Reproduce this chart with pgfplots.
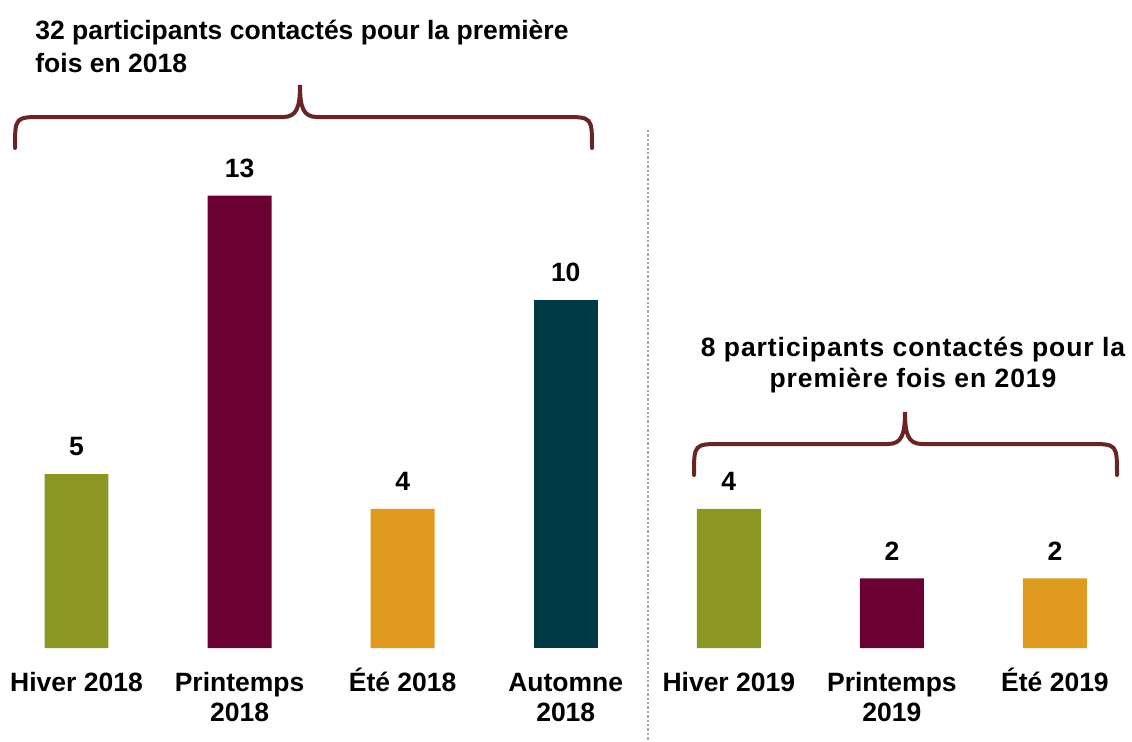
\documentclass[border=0pt]{standalone}
\usepackage{fontspec}
\setmainfont{Liberation Sans}
\usepackage{pgfplots}
\pgfplotsset{compat=1.18}

\definecolor{cOlive}{RGB}{139,150,35}
\definecolor{cMaroon}{RGB}{107,0,51}
\definecolor{cOrange}{RGB}{224,154,30}
\definecolor{cTeal}{RGB}{0,59,69}
\definecolor{cBrace}{RGB}{107,35,35}
\definecolor{cDots}{RGB}{165,165,165}

\newcommand{\lbl}{\bfseries\fontsize{13.25}{15}\selectfont}
\newcommand{\st}{\rule{0pt}{13pt}}

\begin{document}
\begin{tikzpicture}
  \begin{axis}[
      scale only axis,
      width=566pt, height=324pt,
      xmin=-0.4691, xmax=6.4723,
      ymin=0, ymax=18.621,
      axis line style={draw=none},
      major tick length=0pt,
      ytick=\empty,
      xtick={0,...,6},
      xticklabels={{\st Hiver 2018}, {\st Printemps\\2018}, {\st Été 2018}, {\st Automne\\2018},
                   {\st Hiver 2019}, {\st Printemps\\2019}, {\st Été 2019}},
      xticklabel style={font=\lbl, align=center, anchor=north, inner sep=0pt, yshift=-8.75pt},
      ybar, bar width=0.3924,
      nodes near coords,
      every node near coord/.append style={font=\lbl, inner sep=0pt, yshift=8.75pt},
      /pgf/number format/assume math mode=true,
      clip=false,
    ]
    % Hiver
    \addplot[bar shift=0pt, fill=cOlive, draw=none] coordinates {(0,5) (4,4)};
    % Printemps
    \addplot[bar shift=0pt, fill=cMaroon, draw=none] coordinates {(1,13) (5,2)};
    % Été
    \addplot[bar shift=0pt, fill=cOrange, draw=none] coordinates {(2,4) (6,2)};
    % Automne
    \addplot[bar shift=0pt, fill=cTeal, draw=none] coordinates {(3,10)};
  \end{axis}

  % annotations, in pixel units of the reference (origin top left)
  \begin{scope}[yshift=324pt, x=0.5pt, y=-0.5pt]
    \draw[cDots, line width=1.25pt, dash pattern=on 1.2pt off 1.0pt] (648,130) -- (648,741);

    \draw[cBrace, line width=2pt, line cap=round]
      (15,148) .. controls (15,117) and (15,117) .. (43,117) -- (283,117)
      .. controls (297,117) and (300,107) .. (300,85)
      .. controls (300,107) and (303,117) .. (317,117) -- (564,117)
      .. controls (592,117) and (592,117) .. (592,148);

    \draw[cBrace, line width=2pt, line cap=round]
      (694,475) .. controls (694,444) and (694,444) .. (722,444) -- (888,444)
      .. controls (902,444) and (905,434) .. (905,412)
      .. controls (905,434) and (908,444) .. (922,444) -- (1089,444)
      .. controls (1117,444) and (1117,444) .. (1117,475);

    \node[anchor=base west, inner sep=0pt, font=\lbl] at (35,39.5) {32 participants contactés pour la première};
    \node[anchor=base west, inner sep=0pt, font=\lbl] at (35,72.5) {fois en 2018};

    \node[anchor=base, inner sep=0pt, font=\lbl\addfontfeatures{LetterSpace=3.5}] at (913,356.5) {8 participants contactés pour la};
    \node[anchor=base, inner sep=0pt, font=\lbl\addfontfeatures{LetterSpace=3.5}] at (913,387.5) {première fois en 2019};

    \pgfresetboundingbox
    \path[use as bounding box] (0,0) rectangle (1132,741);
  \end{scope}
\end{tikzpicture}
\end{document}
